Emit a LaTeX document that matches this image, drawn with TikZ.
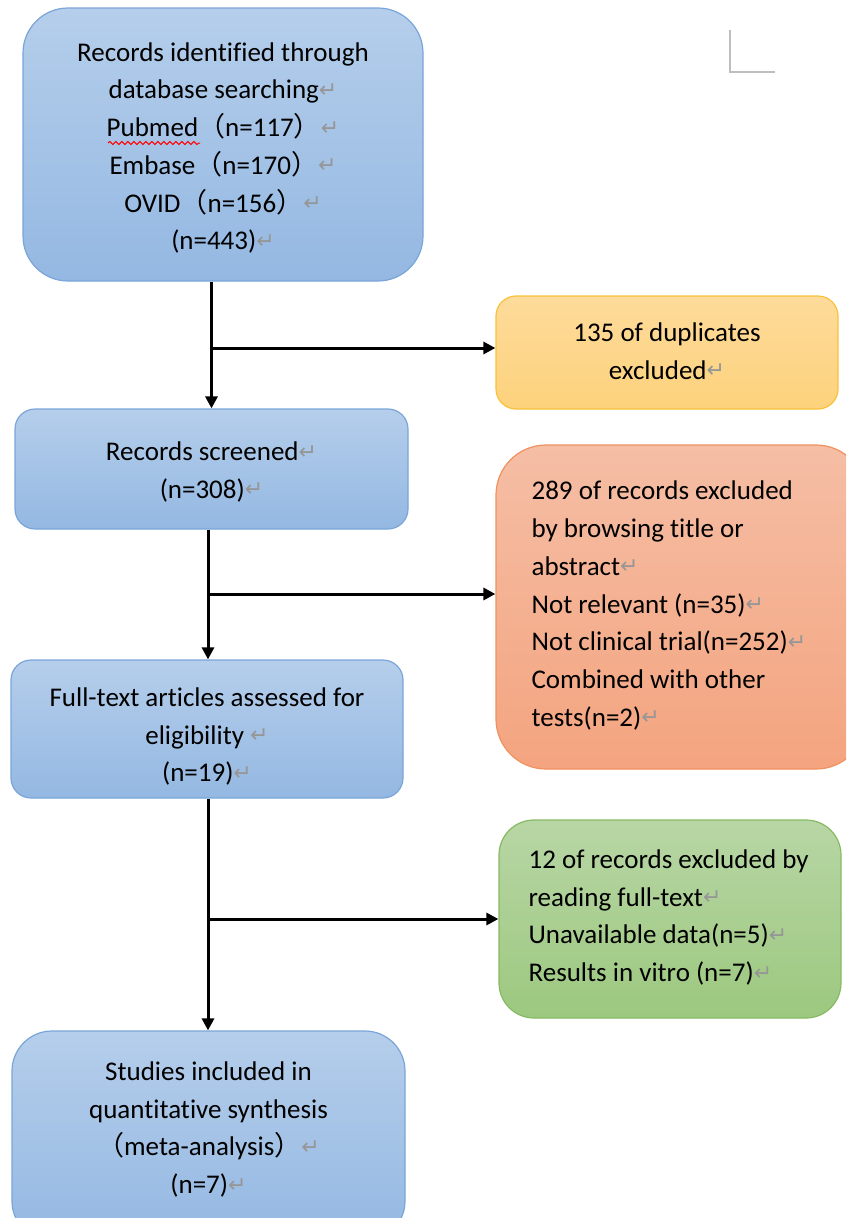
\documentclass[tikz,border=0pt]{standalone}
\usepackage{fontspec}
\setmainfont{Carlito}[Ligatures=NoCommon]
\newfontfamily\cjkfont{Noto Sans CJK SC}
\newfontfamily\markfont{DejaVu Sans}
\usetikzlibrary{arrows.meta, positioning, decorations.pathmorphing}

\definecolor{blueTop}{RGB}{181, 206, 235}
\definecolor{blueBot}{RGB}{148, 184, 226}
\definecolor{blueLine}{RGB}{122, 165, 216}
\definecolor{yellowTop}{RGB}{254, 219, 155}
\definecolor{yellowBot}{RGB}{253, 210, 124}
\definecolor{yellowLine}{RGB}{247, 194, 58}
\definecolor{orangeTop}{RGB}{245, 190, 165}
\definecolor{orangeBot}{RGB}{244, 164, 127}
\definecolor{orangeLine}{RGB}{240, 145, 95}
\definecolor{greenTop}{RGB}{184, 214, 165}
\definecolor{greenBot}{RGB}{156, 200, 127}
\definecolor{greenLine}{RGB}{134, 186, 99}
\definecolor{markgray}{RGB}{150, 150, 150}
\definecolor{cornergray}{RGB}{190, 190, 190}

% paragraph mark and full-width brackets
\newcommand{\retmark}{\raisebox{1.5pt}{\markfont\fontsize{22}{22}\selectfont\textcolor{markgray}{↵}}}
\newcommand{\fwl}{{\cjkfont （}}
\newcommand{\fwr}{{\cjkfont ）}}

\begin{document}
\begin{tikzpicture}[x=1pt, y=-1pt,
    box/.style={draw, line width=1.2pt},
    bluebox/.style={box, draw=blueLine, top color=blueTop, bottom color=blueBot},
    boxtext/.style={align=left, inner sep=0pt, font=\fontsize{27}{37.7}\selectfont},
    arr/.style={line width=3pt, -{Triangle[length=12pt, width=12pt]}}
  ]
  \clip (0,0) rectangle (846,1218);
  \useasboundingbox (0,0) rectangle (846,1218);

  % main column
  \node[bluebox, rounded corners=45pt, minimum width=400pt, minimum height=273pt] (ident) at (223,144.5) {};
  \node[boxtext, align=center] (identt) at ([shift={(0,3.5)}]ident.center)
    {Records identified through\\ database searching\retmark\\ Pubmed\fwl n=117\fwr\retmark\\
     Embase\fwl n=170\fwr\retmark\\ OVID\fwl n=156\fwr\retmark\\ (n=443)\retmark};
  \node[bluebox, rounded corners=20pt, minimum width=393pt, minimum height=120pt] (screen) at (211.5,469) {};
  \node[boxtext, align=center] (screent) at ([shift={(0,3)}]screen.center)
    {Records screened\retmark\\ (n=308)\retmark};
  \node[bluebox, rounded corners=20pt, minimum width=392pt, minimum height=138pt] (full) at (207,729) {};
  \node[boxtext, align=center] (fullt) at ([shift={(0,7.5)}]full.center)
    {Full-text articles assessed for\\ eligibility \retmark\\ (n=19)\retmark};
  \node[bluebox, rounded corners=40pt, minimum width=393pt, minimum height=210pt] (incl) at (208.5,1136) {};
  \node[boxtext, align=center] (inclt) at ([shift={(0,-6.5)}]incl.center)
    {Studies included in\\ quantitative synthesis\\ \fwl meta-analysis\fwr\retmark\\ (n=7)\retmark};

  % spelling mark under Pubmed
  \draw[red, line width=1pt, decorate, decoration={snake, amplitude=1.5pt, segment length=6pt}]
    (108,143) -- (200,143);

  % exclusion boxes
  \node[box, draw=yellowLine, top color=yellowTop, bottom color=yellowBot, rounded corners=20pt,
        minimum width=342pt, minimum height=113pt] (dupl) at (667,352.5) {};
  \node[boxtext, align=center] (duplt) at ([shift={(0,-1.5)}]dupl.center)
    {135 of duplicates\\ excluded\retmark};
  \node[box, draw=orangeLine, top color=orangeTop, bottom color=orangeBot, rounded corners=50pt,
        minimum width=370pt, minimum height=324pt] (excl1) at (681,607) {};
  \node[boxtext, anchor=west] (excl1t) at ([shift={(36,-1.5)}]excl1.west)
    {289 of records excluded\\ by browsing title or\\ abstract\retmark\\ Not relevant (n=35)\retmark\\
     Not clinical trial(n=252)\retmark\\ Combined with other\\ tests(n=2)\retmark};
  \node[box, draw=greenLine, top color=greenTop, bottom color=greenBot, rounded corners=35pt,
        minimum width=342pt, minimum height=198pt] (excl2) at (670,919) {};
  \node[boxtext, anchor=west] (excl2t) at ([shift={(30,-1.5)}]excl2.west)
    {12 of records excluded by\\ reading full-text\retmark\\ Unavailable data(n=5)\retmark\\
     Results in vitro (n=7)\retmark};

  % connectors
  \coordinate (b1) at (211,348);
  \coordinate (b2) at (208,594);
  \coordinate (b3) at (208,919);
  \draw[arr] (ident.south -| screen.north) -- (screen.north);
  \draw[arr] (b1) -- (b1 -| dupl.west);
  \draw[arr] (screen.south -| b2) -- (b2 |- full.north);
  \draw[arr] (b2) -- (b2 -| excl1.west);
  \draw[arr] (full.south -| b3) -- (b3 |- incl.north);
  \draw[arr] (b3) -- (b3 -| excl2.west);

  % page corner mark
  \coordinate (cm) at (730,72);
  \draw[cornergray, line width=1.5pt] (cm) ++(0,-42) -- (cm) -- ++(45,0);
\end{tikzpicture}
\end{document}
